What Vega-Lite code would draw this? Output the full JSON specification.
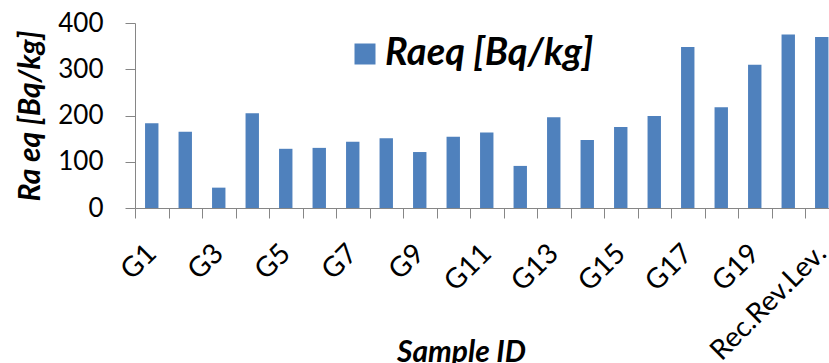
{
  "$schema": "https://vega.github.io/schema/vega-lite/v6.json",
  "autosize": "none",
  "padding": {"left": 135, "top": 23, "right": 0, "bottom": 155},
  "width": 694,
  "height": 185,
  "background": "white",
  "data": {
    "values": [
      {"sample": "G1", "value": 183, "series": "Raeq [Bq/kg]"},
      {"sample": "G2", "value": 165, "series": "Raeq [Bq/kg]"},
      {"sample": "G3", "value": 44, "series": "Raeq [Bq/kg]"},
      {"sample": "G4", "value": 205, "series": "Raeq [Bq/kg]"},
      {"sample": "G5", "value": 128, "series": "Raeq [Bq/kg]"},
      {"sample": "G6", "value": 130, "series": "Raeq [Bq/kg]"},
      {"sample": "G7", "value": 143, "series": "Raeq [Bq/kg]"},
      {"sample": "G8", "value": 151, "series": "Raeq [Bq/kg]"},
      {"sample": "G9", "value": 121, "series": "Raeq [Bq/kg]"},
      {"sample": "G10", "value": 154, "series": "Raeq [Bq/kg]"},
      {"sample": "G11", "value": 163, "series": "Raeq [Bq/kg]"},
      {"sample": "G12", "value": 91, "series": "Raeq [Bq/kg]"},
      {"sample": "G13", "value": 196, "series": "Raeq [Bq/kg]"},
      {"sample": "G14", "value": 147, "series": "Raeq [Bq/kg]"},
      {"sample": "G15", "value": 175, "series": "Raeq [Bq/kg]"},
      {"sample": "G16", "value": 199, "series": "Raeq [Bq/kg]"},
      {"sample": "G17", "value": 348, "series": "Raeq [Bq/kg]"},
      {"sample": "G18", "value": 218, "series": "Raeq [Bq/kg]"},
      {"sample": "G19", "value": 310, "series": "Raeq [Bq/kg]"},
      {"sample": "G20", "value": 375, "series": "Raeq [Bq/kg]"},
      {"sample": "Rec.Rev.Lev.", "value": 370, "series": "Raeq [Bq/kg]"}
    ]
  },
  "mark": {"type": "bar", "color": "#4F81BD"},
  "encoding": {
    "x": {
      "field": "sample",
      "type": "nominal",
      "sort": null,
      "scale": {"range": [0, 703.5], "paddingInner": 0.6, "paddingOuter": 0.3},
      "axis": {
        "title": "Sample ID",
        "titleFont": "Lato",
        "titleFontSize": 30,
        "titleFontStyle": "italic",
        "titleFontWeight": "bold",
        "titleColor": "black",
        "titleX": 326,
        "titleY": 153,
        "titleAlign": "center",
        "titleBaseline": "alphabetic",
        "labelAngle": -45,
        "labelAlign": "right",
        "labelBaseline": "middle",
        "labelFont": "Lato",
        "labelFontSize": 28,
        "labelColor": "black",
        "labelPadding": 31,
        "labelOffset": 16.75,
        "tickOffset": -16.75,
        "tickSize": 10,
        "tickColor": "#868686",
        "domainColor": "#868686",
        "labelOverlap": false,
        "labelLimit": 0,
        "labelBound": false,
        "labelExpr": "indexof(['G1','G3','G5','G7','G9','G11','G13','G15','G17','G19','Rec.Rev.Lev.'], datum.value) >= 0 ? datum.label : ''"
      }
    },
    "y": {
      "field": "value",
      "type": "quantitative",
      "scale": {"domain": [0, 400], "nice": false},
      "axis": {
        "title": "Ra eq [Bq/kg]",
        "titleFont": "Lato",
        "titleFontSize": 30,
        "titleFontStyle": "italic",
        "titleFontWeight": "bold",
        "titleColor": "black",
        "titlePadding": 12,
        "values": [0, 100, 200, 300, 400],
        "labelFont": "Lato",
        "labelFontSize": 26,
        "labelColor": "black",
        "labelPadding": 22,
        "tickSize": 10,
        "tickColor": "#868686",
        "domainColor": "#868686",
        "grid": false
      }
    },
    "color": {
      "field": "series",
      "type": "nominal",
      "scale": {"range": ["#4F81BD"]},
      "legend": {
        "title": null,
        "orient": "none",
        "legendX": 211,
        "legendY": 12,
        "padding": 0,
        "symbolType": "square",
        "symbolSize": 441,
        "symbolStrokeWidth": 0,
        "symbolOpacity": 1,
        "symbolFillColor": "#4F81BD",
        "labelFont": "Lato",
        "labelFontSize": 38,
        "labelFontStyle": "italic",
        "labelFontWeight": "bold",
        "labelColor": "black",
        "labelOffset": 1,
        "labelLimit": 0
      }
    }
  },
  "config": {"view": {"stroke": null}}
}
